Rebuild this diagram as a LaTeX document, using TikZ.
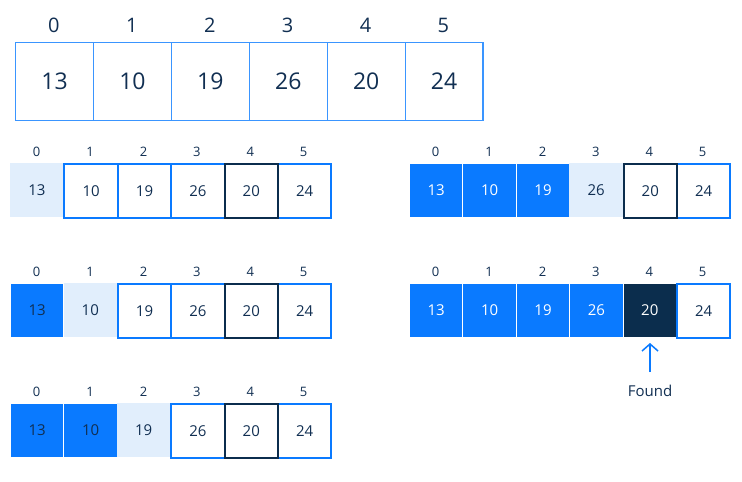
\documentclass[tikz,border=0pt]{standalone}
\usepackage{fontspec}
\setmainfont{Open Sans}
\usetikzlibrary{arrows.meta}
\definecolor{cblue}{HTML}{0A7AFF}
\definecolor{clight}{HTML}{E1EEFC}
\definecolor{cnavy}{HTML}{0B2D4D}
\definecolor{ctext}{HTML}{112F52}
\definecolor{ctop}{HTML}{3A95FF}
\tikzset{
  x=1pt,y=-1pt,
  cellbase/.style={minimum width=53.4pt,minimum height=54pt,inner sep=0pt,anchor=north west,font=\fontsize{15}{15}\selectfont,text=ctext},
  outl/.style={cellbase,draw=cblue,line width=2pt,fill=white},
  navyl/.style={cellbase,draw=cnavy,line width=2pt,fill=white},
  lite/.style={cellbase,fill=clight},
  bluedk/.style={cellbase,fill=cblue,draw=white,line width=1pt},
  bluewt/.style={cellbase,fill=cblue,draw=white,line width=1pt,text=white},
  navyf/.style={cellbase,fill=cnavy,draw=white,line width=1pt,text=white},
  idx/.style={font=\fontsize{13}{13}\selectfont,text=ctext,inner sep=0pt},
  topcell/.style={minimum width=77.9pt,minimum height=78pt,inner sep=0pt,anchor=north west,draw=ctop,line width=1.2pt,fill=white,font=\fontsize{23}{23}\selectfont,text=ctext},
  topidx/.style={font=\fontsize{20}{20}\selectfont,text=ctext,inner sep=0pt},
}
\newcommand{\arrrow}[4]{%
  \foreach \s/\v [count=\i from 0] in {#4}{
    \node[idx] (#1i\i) at (#2+53.4*\i+26.7,#3-11) {\i};
  }
  \foreach \s/\v [count=\i from 0] in {#4}{
    \node[\s] (#1c\i) at (#2+53.4*\i,#3) {\v};
  }
}
\begin{document}
\begin{tikzpicture}
\useasboundingbox[fill=white] (0,0) rectangle (742,482);
% top array
\foreach \v [count=\i from 0] in {13,10,19,26,20,24}{
  \node[topcell] (t\i) at (15+77.9*\i,42) {\v};
  \node[topidx] (ti\i) at (15+77.9*\i+38.95,25) {\i};
}
\arrrow{a}{10}{163}{lite/13,outl/10,outl/19,outl/26,outl/20,outl/24}
\node[navyl] (a4) at (10+53.4*4,163) {20};
\arrrow{b}{10}{283}{bluedk/13,lite/10,outl/19,outl/26,outl/20,outl/24}
\node[navyl] (b4) at (10+53.4*4,283) {20};
\arrrow{c}{10}{403}{bluedk/13,bluedk/10,lite/19,outl/26,outl/20,outl/24}
\node[navyl] (c4) at (10+53.4*4,403) {20};
\arrrow{d}{409}{163}{bluewt/13,bluewt/10,bluewt/19,lite/26,outl/20,outl/24}
\node[navyl] (d4) at (409+53.4*4,163) {20};
\arrrow{e}{409}{283}{bluewt/13,bluewt/10,bluewt/19,bluewt/26,navyf/20,outl/24}
% arrow and label
\node[font=\fontsize{15}{15}\selectfont,text=ctext,inner sep=0pt] (found) at (650,391) {Found};
\coordinate (tip) at (650,343);
\coordinate (tail) at (650,372);
\draw[cblue,line width=1.5pt,-{Straight Barb[length=7pt,width=16pt,line width=1.5pt]}] (tail) -- (tip);
\end{tikzpicture}
\end{document}
